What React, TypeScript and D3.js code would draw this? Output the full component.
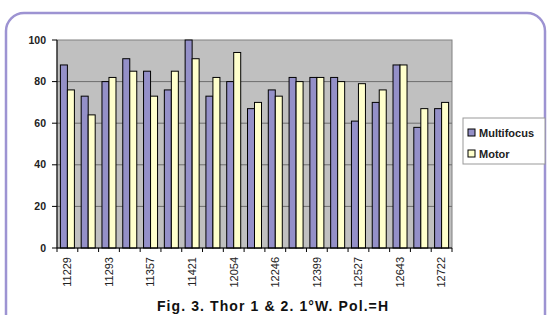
import React from "react";
import * as d3 from "d3";

const categories = ["11229", "", "11293", "", "11357", "", "11421", "", "12054", "", "12246", "", "12399", "", "12527", "", "12643", "", "12722"];
const multifocus = [88, 73, 80, 91, 85, 76, 100, 73, 80, 67, 76, 82, 82, 82, 61, 70, 88, 58, 67];
const motor = [76, 64, 82, 85, 73, 85, 91, 82, 94, 70, 73, 80, 82, 80, 79, 76, 88, 67, 70];
const yTicks = [0, 20, 40, 60, 80, 100];
const seriesNames = ["Multifocus", "Motor"];
const title = "Fig. 3. Thor 1 & 2. 1°W. Pol.=H";

export default function App() {
  const W = 549, H = 315;
  const left = 57, right = 452, top = 40, bottom = 248;
  const idx = categories.map((_, i) => i);
  const x = d3.scaleBand<number>().domain(idx).range([left, right]).paddingInner(0).paddingOuter(0);
  const y = d3.scaleLinear().domain([0, 100]).range([bottom, top]);
  const bw = x.bandwidth();
  const barW = 7;
  const colors = ["#9490c8", "#ffffcc"];
  const font = "Liberation Sans, Arial, sans-serif";
  return (
    <div style={{ position: "absolute", left: 0, top: 0 }}>
      <svg width={W} height={H} style={{ display: "block" }}>
        <rect x={0} y={0} width={W} height={H} fill="#fff" />
        <rect x={6} y={13} width={539} height={330} rx={18} ry={18} fill="none" stroke="#9d93d2" strokeWidth={2.5} />
        <rect x={left} y={top} width={right - left} height={bottom - top} fill="#c0c0c0" stroke="#808080" strokeWidth={1} />
        {yTicks.filter(t => t > 0 && t < 100).map(t => (
          <line key={t} x1={left} x2={right} y1={y(t)} y2={y(t)} stroke="#6e6e6e" strokeWidth={1} />
        ))}
        {idx.map(i => {
          const cx = x(i)! + bw / 2;
          return (
            <g key={i}>
              <rect x={cx - barW} y={y(multifocus[i])} width={barW} height={bottom - y(multifocus[i])} fill={colors[0]} stroke="#000" strokeWidth={1} />
              <rect x={cx} y={y(motor[i])} width={barW} height={bottom - y(motor[i])} fill={colors[1]} stroke="#000" strokeWidth={1} />
            </g>
          );
        })}
        <line x1={left} x2={left} y1={top} y2={bottom} stroke="#000" strokeWidth={1} />
        <line x1={left} x2={right} y1={bottom} y2={bottom} stroke="#000" strokeWidth={1} />
        {yTicks.map(t => (
          <g key={t}>
            <line x1={left - 5} x2={left} y1={y(t)} y2={y(t)} stroke="#000" />
            <text x={left - 11} y={y(t)} dy="0.35em" textAnchor="end" fontFamily={font} fontSize={10.5} fontWeight="bold" fill="#222">{t}</text>
          </g>
        ))}
        {[...idx, categories.length].map(i => {
          const xx = i < categories.length ? x(i)! : right;
          return <line key={"t" + i} x1={xx} x2={xx} y1={bottom} y2={bottom + 4} stroke="#000" />;
        })}
        {idx.filter(i => categories[i] !== "").map(i => {
          const cx = x(i)! + bw / 2;
          return (
            <text key={"l" + i} transform={`translate(${cx},${bottom + 9}) rotate(-90)`} textAnchor="end" dy="0.35em" fontFamily={font} fontSize={11} fill="#222">{categories[i]}</text>
          );
        })}
        <g>
          <rect x={463} y={118} width={82} height={46} fill="#fff" stroke="#999" strokeWidth={1} />
          {seriesNames.map((s, i) => (
            <g key={s}>
              <rect x={468} y={129 + i * 21} width={7} height={7} fill={colors[i]} stroke="#000" strokeWidth={1} />
              <text x={479} y={133 + i * 21} dy="0.35em" fontFamily={font} fontSize={11} fontWeight="bold" fill="#222">{s}</text>
            </g>
          ))}
        </g>
        <text x={273} y={311} textAnchor="middle" fontFamily={font} fontSize={14} fontWeight="bold" letterSpacing={1.1} fill="#111">{title}</text>
      </svg>
    </div>
  );
}
